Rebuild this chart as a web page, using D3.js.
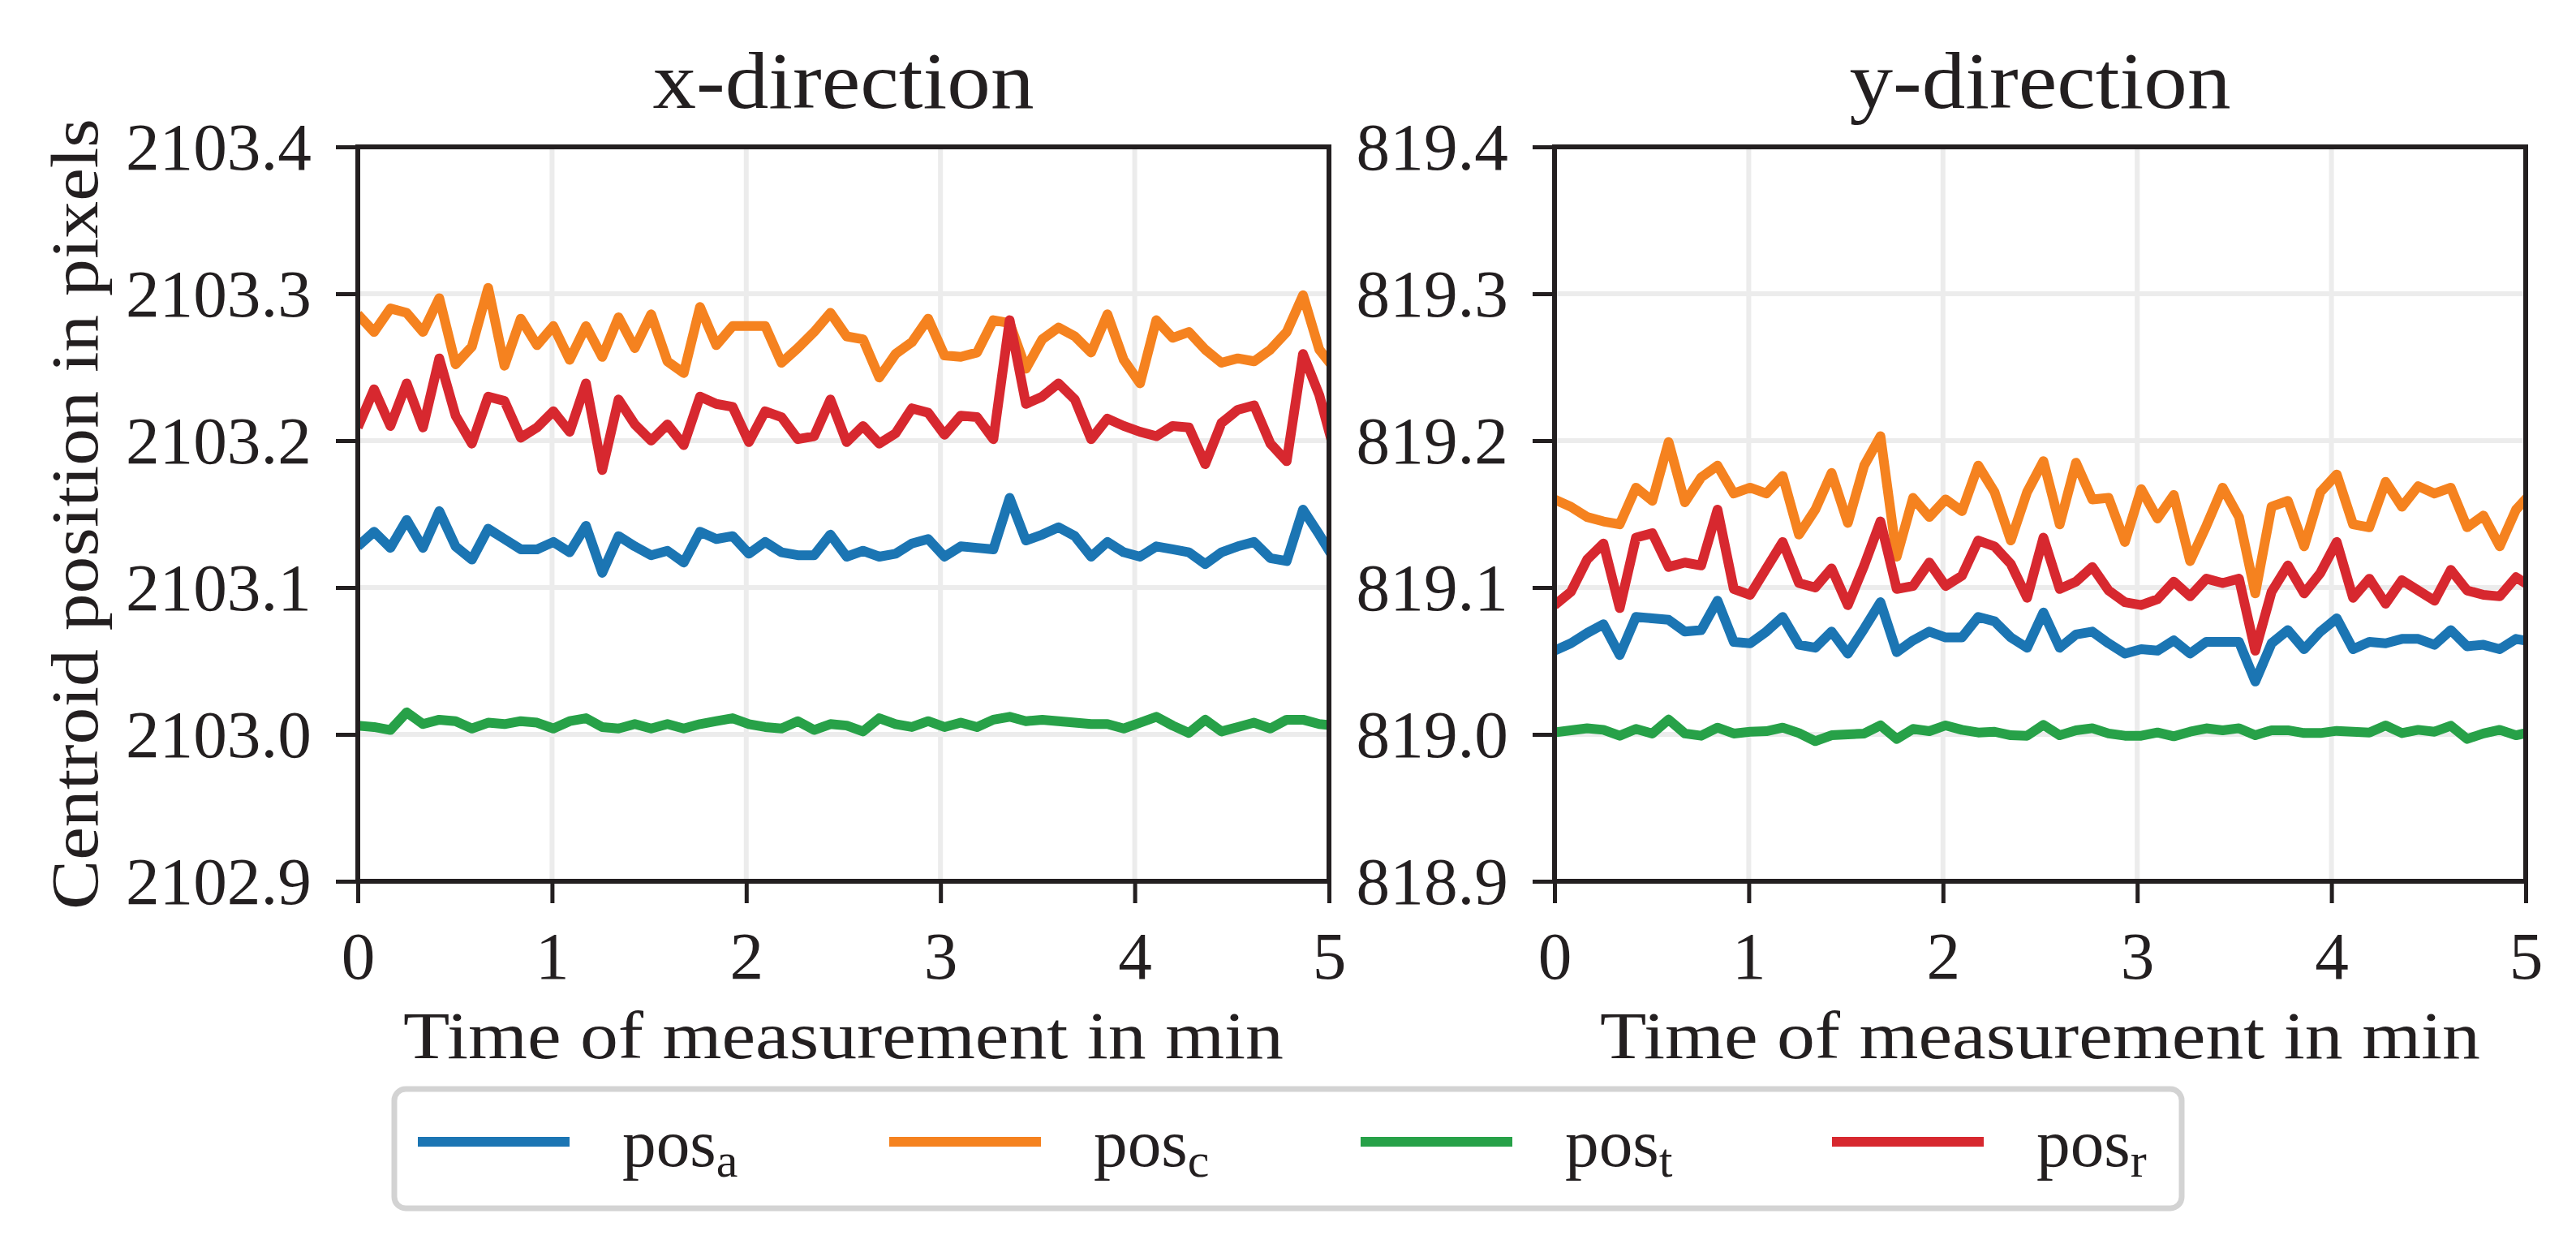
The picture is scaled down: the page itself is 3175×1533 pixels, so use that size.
<!DOCTYPE html>
<html>
<head>
<meta charset="utf-8">
<script src="https://cdn.jsdelivr.net/npm/d3@7"></script>
<style>
html,body{margin:0;padding:0;background:#fff;}
svg{display:block;}
text{font-family:"Liberation Serif","DejaVu Serif",serif;fill:#231f20;}
</style>
</head>
<body>
<svg id="chart" width="3175" height="1533"></svg>
<script>
// ---------------- DATA ----------------
const sampleCount = 61;
const sampleStepMin = 0.0839;           // sampling interval in minutes (~5 s)
const xTicks = [0, 1, 2, 3, 4, 5];
const xTickLabels = ["0", "1", "2", "3", "4", "5"];
const yTicksX = [2102.9, 2103.0, 2103.1, 2103.2, 2103.3, 2103.4];
const yTickLabelsX = ["2102.9", "2103.0", "2103.1", "2103.2", "2103.3", "2103.4"];
const yTicksY = [818.9, 819.0, 819.1, 819.2, 819.3, 819.4];
const yTickLabelsY = ["818.9", "819.0", "819.1", "819.2", "819.3", "819.4"];
const seriesNames = ["a", "c", "t", "r"];
const panelTitles = ["x-direction", "y-direction"];
const xLabel = "Time of measurement in min";
const yLabel = "Centroid position in pixels";

// x-direction
const posA_x = [2103.128,2103.138,2103.127,2103.146,2103.127,2103.152,2103.128,2103.119,2103.140,2103.133,
  2103.126,2103.126,2103.131,2103.124,2103.142,2103.110,2103.135,2103.128,2103.122,2103.125,
  2103.117,2103.138,2103.133,2103.135,2103.123,2103.131,2103.124,2103.122,2103.122,2103.136,
  2103.121,2103.125,2103.121,2103.123,2103.130,2103.133,2103.121,2103.128,2103.127,2103.126,
  2103.161,2103.132,2103.136,2103.141,2103.135,2103.121,2103.131,2103.124,2103.121,2103.128,
  2103.126,2103.124,2103.116,2103.124,2103.128,2103.131,2103.120,2103.118,2103.153,2103.136,
  2103.118];
const posC_x = [2103.286,2103.274,2103.290,2103.287,2103.274,2103.297,2103.252,2103.264,2103.304,2103.251,
  2103.283,2103.265,2103.278,2103.255,2103.278,2103.257,2103.284,2103.263,2103.286,2103.254,
  2103.246,2103.291,2103.265,2103.278,2103.278,2103.278,2103.253,2103.263,2103.274,2103.287,
  2103.271,2103.269,2103.243,2103.259,2103.267,2103.283,2103.258,2103.257,2103.260,2103.282,
  2103.280,2103.249,2103.269,2103.277,2103.271,2103.260,2103.286,2103.255,2103.239,2103.282,
  2103.270,2103.274,2103.262,2103.253,2103.256,2103.254,2103.262,2103.274,2103.299,2103.262,
  2103.248];
const posT_x = [2103.006,2103.005,2103.003,2103.015,2103.007,2103.010,2103.009,2103.004,2103.008,2103.007,
  2103.009,2103.008,2103.004,2103.009,2103.011,2103.005,2103.004,2103.007,2103.004,2103.007,
  2103.004,2103.007,2103.009,2103.011,2103.007,2103.005,2103.004,2103.009,2103.003,2103.007,
  2103.006,2103.002,2103.011,2103.007,2103.005,2103.009,2103.005,2103.008,2103.005,2103.010,
  2103.012,2103.009,2103.010,2103.009,2103.008,2103.007,2103.007,2103.004,2103.008,2103.012,
  2103.006,2103.001,2103.010,2103.002,2103.005,2103.008,2103.004,2103.010,2103.010,2103.007,
  2103.006];
const posR_x = [2103.209,2103.235,2103.210,2103.239,2103.209,2103.256,2103.217,2103.198,2103.230,2103.227,
  2103.202,2103.209,2103.220,2103.206,2103.239,2103.180,2103.228,2103.211,2103.200,2103.211,
  2103.197,2103.230,2103.225,2103.223,2103.199,2103.220,2103.216,2103.201,2103.203,2103.228,
  2103.199,2103.210,2103.198,2103.205,2103.222,2103.219,2103.204,2103.217,2103.216,2103.201,
  2103.282,2103.225,2103.230,2103.239,2103.228,2103.201,2103.215,2103.210,2103.206,2103.203,
  2103.210,2103.209,2103.184,2103.212,2103.221,2103.224,2103.198,2103.186,2103.259,2103.231,
  2103.190];

// y-direction
const posA_y = [819.057,819.062,819.069,819.075,819.054,819.080,819.079,819.078,819.070,819.071,
  819.091,819.063,819.062,819.070,819.080,819.061,819.059,819.070,819.055,819.072,
  819.090,819.056,819.064,819.070,819.066,819.066,819.080,819.077,819.066,819.059,
  819.083,819.059,819.068,819.070,819.062,819.055,819.058,819.057,819.064,819.055,
  819.063,819.063,819.063,819.036,819.062,819.071,819.058,819.070,819.079,819.058,
  819.063,819.062,819.065,819.065,819.061,819.071,819.060,819.061,819.058,819.065,
  819.063];
const posC_y = [819.160,819.155,819.148,819.145,819.143,819.168,819.159,819.199,819.158,819.175,
  819.183,819.164,819.168,819.164,819.176,819.136,819.153,819.178,819.144,819.183,
  819.203,819.121,819.161,819.148,819.160,819.152,819.183,819.165,819.132,819.165,
  819.186,819.143,819.185,819.160,819.161,819.131,819.167,819.147,819.163,819.118,
  819.142,819.168,819.148,819.096,819.155,819.159,819.128,819.165,819.177,819.143,
  819.141,819.172,819.155,819.169,819.164,819.168,819.141,819.149,819.128,819.153,
  819.165];
const posT_y = [819.0013,819.0028,819.0041,819.0031,818.9991,819.0037,819.0006,819.0101,819.0006,818.9991,
  819.0046,819.0006,819.0018,819.0022,819.0046,819.0009,818.9954,818.9994,819.0000,819.0006,
  819.0061,818.9969,819.0037,819.0022,819.0061,819.0031,819.0013,819.0018,818.9994,818.9991,
  819.0065,818.9994,819.0028,819.0042,819.0006,818.9991,818.9991,819.0013,818.9987,819.0018,
  819.0041,819.0028,819.0042,818.9994,819.0028,819.0028,819.0009,819.0009,819.0024,819.0018,
  819.0013,819.0061,819.0009,819.0031,819.0018,819.0059,818.9969,819.0006,819.0031,818.9994,
  819.0018];
const posR_y = [819.088,819.097,819.119,819.130,819.086,819.134,819.137,819.114,819.117,819.115,
  819.153,819.099,819.095,819.113,819.131,819.103,819.100,819.113,819.088,819.115,
  819.145,819.099,819.101,819.117,819.101,819.108,819.132,819.128,819.116,819.093,
  819.134,819.099,819.104,819.114,819.098,819.090,819.088,819.092,819.104,819.094,
  819.106,819.103,819.106,819.057,819.097,819.115,819.096,819.110,819.131,819.093,
  819.106,819.089,819.105,819.098,819.091,819.112,819.098,819.095,819.094,819.107,
  819.100];

// ---------------- STYLE / LAYOUT ----------------
const colors = ["#1b75b3", "#f5821f", "#27a148", "#d7282f"];
const inkColor = "#231f20";
const gridColor = "#ececec";
const W = 3175, H = 1533;
const plotTop = 181, plotBottom = 1086, plotWidth = 1197;
const panelLefts = [441, 1916];
const tickFont = 83.3, titleFont = 100;

const times = d3.range(sampleCount).map(i => i * sampleStepMin);

const panels = [
  { title: panelTitles[0], left: panelLefts[0], domain: [2102.9, 2103.4], yTicks: yTicksX, yTickLabels: yTickLabelsX,
    series: [posA_x, posC_x, posT_x, posR_x], showYLabel: true },
  { title: panelTitles[1], left: panelLefts[1], domain: [818.9, 819.4], yTicks: yTicksY, yTickLabels: yTickLabelsY,
    series: [posA_y, posC_y, posT_y, posR_y], showYLabel: false }
];

const svg = d3.select("#chart");
svg.append("rect").attr("width", W).attr("height", H).attr("fill", "#fff");
const defs = svg.append("defs");

panels.forEach((p, pi) => {
  const x = d3.scaleLinear().domain([0, 5]).range([p.left, p.left + plotWidth]);
  const y = d3.scaleLinear().domain(p.domain).range([plotBottom, plotTop]);
  const g = svg.append("g");

  // clip
  defs.append("clipPath").attr("id", "clip" + pi)
    .append("rect").attr("x", p.left).attr("y", plotTop)
    .attr("width", plotWidth).attr("height", plotBottom - plotTop);

  // grid
  const grid = g.append("g");
  grid.selectAll("line.gx").data(xTicks).join("line")
    .attr("x1", d => x(d)).attr("x2", d => x(d))
    .attr("y1", plotTop).attr("y2", plotBottom)
    .attr("stroke", gridColor).attr("stroke-width", 6);
  grid.selectAll("line.gy").data(p.yTicks).join("line")
    .attr("y1", d => y(d)).attr("y2", d => y(d))
    .attr("x1", p.left).attr("x2", p.left + plotWidth)
    .attr("stroke", gridColor).attr("stroke-width", 6);

  // lines
  const line = d3.line().x((d, i) => x(times[i])).y(d => y(d));
  const lg = g.append("g").attr("clip-path", `url(#clip${pi})`);
  p.series.forEach((s, si) => {
    lg.append("path").datum(s).attr("d", line)
      .attr("fill", "none").attr("stroke", colors[si])
      .attr("stroke-width", 12).attr("stroke-linejoin", "round").attr("stroke-linecap", "butt");
  });

  // axes (d3 axes for ticks)
  const xAxis = d3.axisBottom(x).tickValues(xTicks).tickFormat((d, i) => xTickLabels[i])
    .tickSizeInner(27).tickSizeOuter(0).tickPadding(34);
  const xa = g.append("g").attr("transform", `translate(0,${plotBottom})`).call(xAxis);
  xa.select(".domain").remove();
  xa.selectAll(".tick line").attr("stroke", inkColor).attr("stroke-width", 5);
  xa.selectAll(".tick text").attr("font-size", tickFont).attr("fill", inkColor)
    .attr("font-family", '"Liberation Serif",serif').attr("dy", "0.71em");

  const yAxis = d3.axisLeft(y).tickValues(p.yTicks).tickFormat((d, i) => p.yTickLabels[i])
    .tickSizeInner(27).tickSizeOuter(0).tickPadding(30);
  const ya = g.append("g").attr("transform", `translate(${p.left},0)`).call(yAxis);
  ya.select(".domain").remove();
  ya.selectAll(".tick line").attr("stroke", inkColor).attr("stroke-width", 5);
  ya.selectAll(".tick text").attr("font-size", tickFont).attr("fill", inkColor)
    .attr("font-family", '"Liberation Serif",serif').attr("dy", "0.33em");

  // spines
  g.append("rect").attr("x", p.left).attr("y", plotTop)
    .attr("width", plotWidth).attr("height", plotBottom - plotTop)
    .attr("fill", "none").attr("stroke", inkColor).attr("stroke-width", 6);

  // title
  g.append("text").attr("x", p.left + plotWidth / 2).attr("y", 133)
    .attr("text-anchor", "middle").attr("font-size", titleFont)
    .attr("textLength", 470).attr("lengthAdjust", "spacingAndGlyphs")
    .text(p.title);

  // x label
  g.append("text").attr("x", p.left + plotWidth / 2).attr("y", 1304)
    .attr("text-anchor", "middle").attr("font-size", tickFont)
    .attr("textLength", 1085).attr("lengthAdjust", "spacingAndGlyphs")
    .text(xLabel);

  if (p.showYLabel) {
    g.append("text")
      .attr("transform", `translate(120,${(plotTop + plotBottom) / 2}) rotate(-90)`)
      .attr("text-anchor", "middle").attr("font-size", tickFont)
      .attr("textLength", 975).attr("lengthAdjust", "spacingAndGlyphs")
      .text(yLabel);
  }
});

// ---------------- LEGEND ----------------
const legend = svg.append("g");
legend.append("rect").attr("x", 486).attr("y", 1342).attr("width", 2203).attr("height", 147)
  .attr("rx", 14).attr("ry", 14).attr("fill", "#fff").attr("stroke", "#d3d3d3").attr("stroke-width", 7);
const legendStep = 581;
const lx = d3.scaleLinear().domain([0, 1]).range([515, 515 + legendStep]);
seriesNames.forEach((name, i) => {
  const x0 = lx(i);
  legend.append("line").attr("x1", x0).attr("x2", x0 + 187).attr("y1", 1407).attr("y2", 1407)
    .attr("stroke", colors[i]).attr("stroke-width", 12);
  const t = legend.append("text").attr("x", x0 + 252).attr("y", 1437).attr("font-size", tickFont);
  t.append("tspan").text("pos");
  t.append("tspan").attr("font-size", 60).attr("dy", 13).text(name);
});
</script>
</body>
</html>
